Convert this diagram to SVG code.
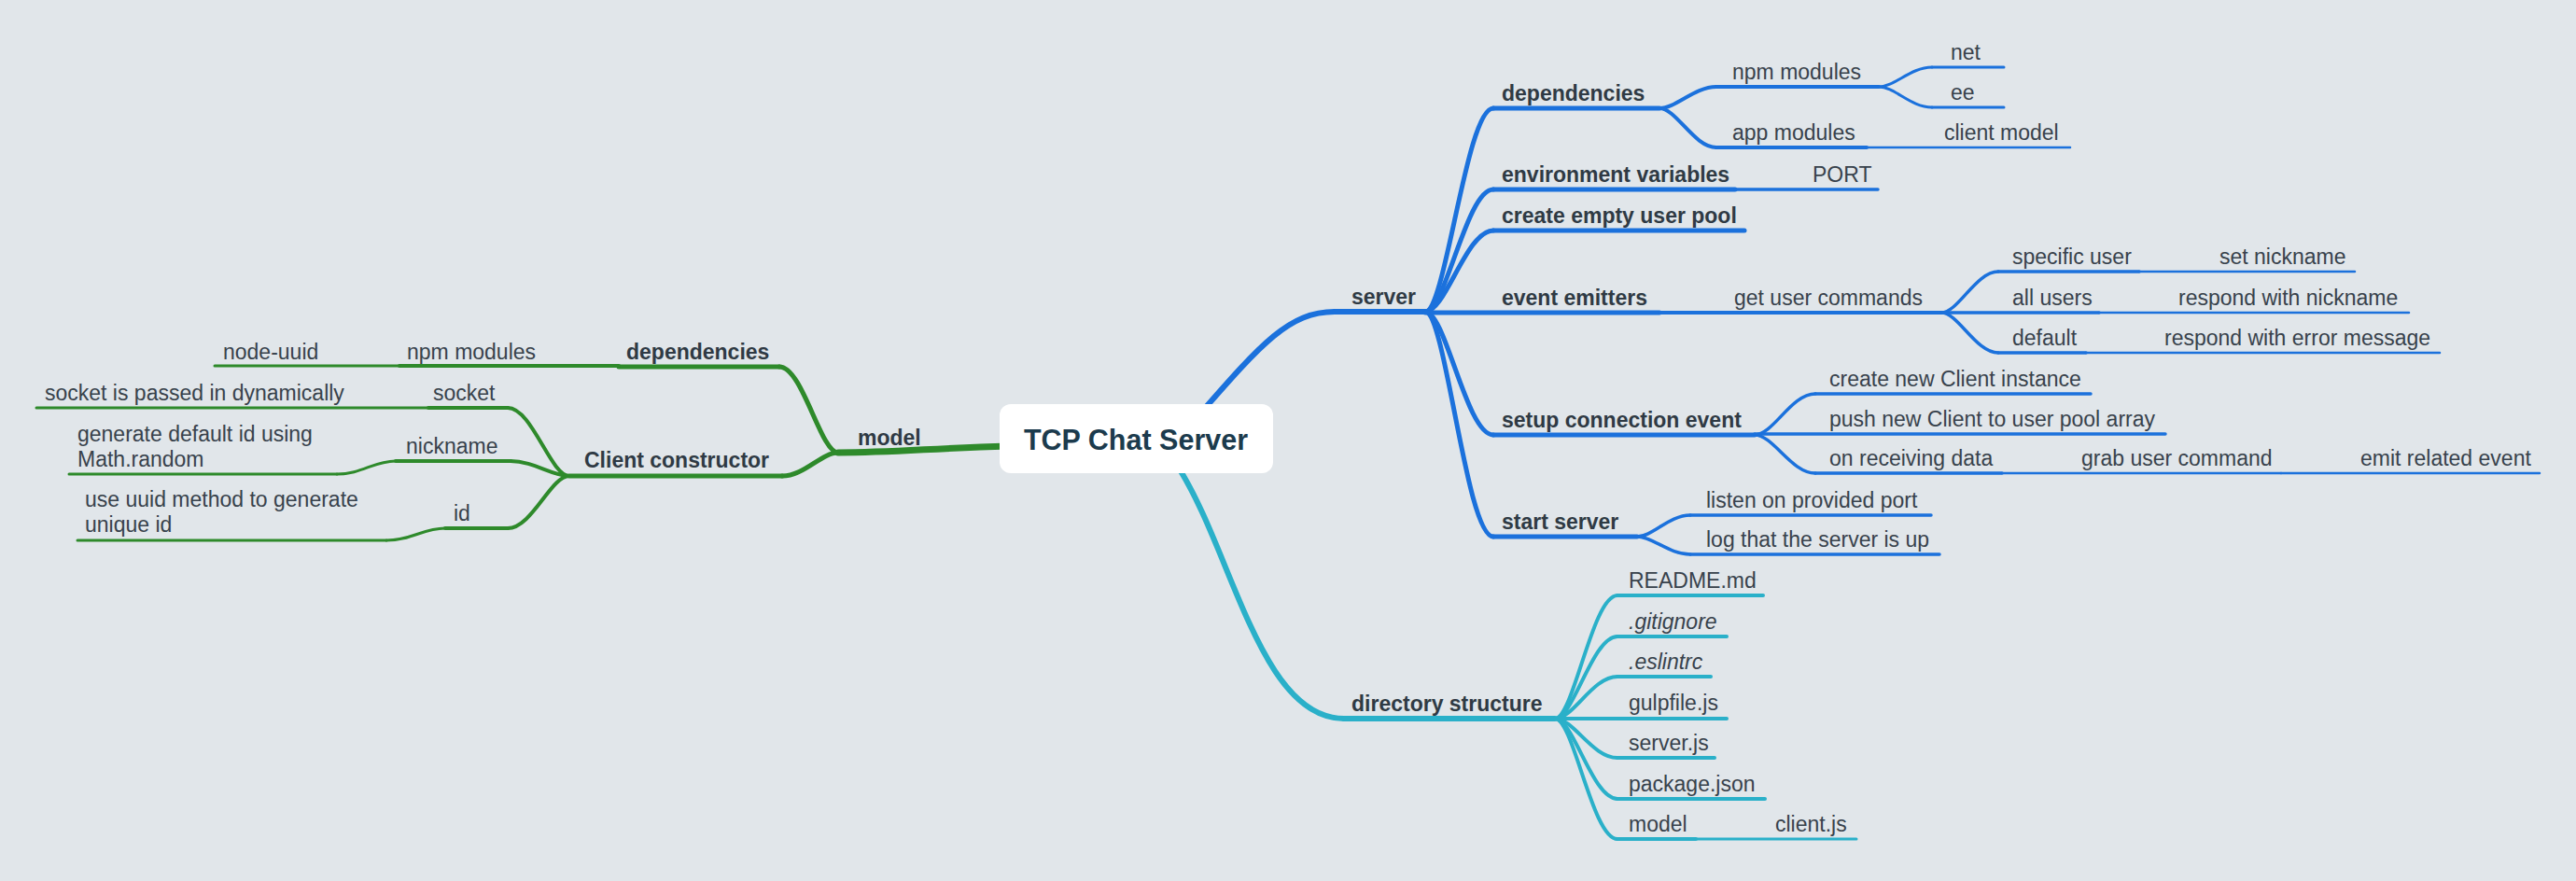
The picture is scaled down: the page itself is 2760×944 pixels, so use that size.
<svg xmlns="http://www.w3.org/2000/svg" width="2760" height="944" viewBox="0 0 2760 944">
<style>
.t{font-family:"Liberation Sans",Arial,Helvetica,sans-serif;font-size:23px;fill:#38424c}
.b{font-weight:bold;fill:#2f3a44}
.i{font-style:italic}
.root{font-family:"Liberation Sans",Arial,Helvetica,sans-serif;font-size:30.5px;font-weight:bold;fill:#1c3b4d}
path,line{fill:none;stroke-linecap:round;stroke-linejoin:round}
.g{stroke:#2e8a2b}
.bl{stroke:#1b71dc}
.c{stroke:#2ab0c9}
.w7{stroke-width:7}.w6{stroke-width:6}.w5{stroke-width:5}.w4{stroke-width:4}.w35{stroke-width:3.5}.w3{stroke-width:3}.w25{stroke-width:2.5}
</style>
<rect width="2760" height="944" fill="#e1e6ea"/>
<g id="connectors">
  <!-- root branches -->
  <path class="bl w6" d="M1280,450 C1350,370 1380,334 1430,334"/>
  <path class="c w6" d="M1262,500 C1320,590 1350,770 1440,770"/>
  <path class="g w7" d="M1080,478 C1000,480 960,485 898,485"/>
  <!-- server children -->
  <path class="bl w5" d="M1527,334 C1549,334 1571,116 1600,116"/>
  <path class="bl w5" d="M1527,334 C1549,334 1571,203 1600,203"/>
  <path class="bl w5" d="M1527,334 C1549,334 1571,247 1600,247"/>
  <path class="bl w5" d="M1527,334 C1549,334 1571,466 1600,466"/>
  <path class="bl w5" d="M1527,334 C1549,334 1571,575 1600,575"/>
  <path class="bl w4" d="M1778,116 C1796,116 1815,93 1839,93"/>
  <path class="bl w4" d="M1778,116 C1796,116 1815,158 1839,158"/>
  <path class="bl w3" d="M2013,93 C2030,93 2047,72 2070,72"/>
  <path class="bl w3" d="M2013,93 C2030,93 2047,115 2070,115"/>
  <path class="bl w35" d="M2080,335 C2098,335 2117,291 2141,291"/>
  <path class="bl w35" d="M2080,335 C2098,335 2117,378 2141,378"/>
  <path class="bl w35" d="M1880,466 C1900,466 1919,422 1945,422"/>
  <path class="bl w35" d="M1880,466 C1900,466 1919,507 1945,507"/>
  <path class="bl w35" d="M1754,575 C1771,575 1788,552 1811,552"/>
  <path class="bl w35" d="M1754,575 C1771,575 1788,594 1811,594"/>
  <!-- directory children -->
  <path class="c w4" d="M1666,770 C1686,770 1706,638 1733,638"/>
  <path class="c w4" d="M1666,770 C1686,770 1706,682 1733,682"/>
  <path class="c w4" d="M1666,770 C1686,770 1706,725 1733,725"/>
  <path class="c w4" d="M1666,770 C1686,770 1706,812 1733,812"/>
  <path class="c w4" d="M1666,770 C1686,770 1706,856 1733,856"/>
  <path class="c w4" d="M1666,770 C1686,770 1706,899 1733,899"/>
  <!-- model children -->
  <path class="g w5" d="M898,485 C879,485 860,393 835,393"/>
  <path class="g w5" d="M898,485 C880,485 862,510 838,510"/>
  <path class="g w4" d="M610,510 C590,510 570,437 544,437"/>
  <path class="g w4" d="M610,510 C591,510 572,494 547,494"/>
  <path class="g w4" d="M610,510 C590,510 570,566 544,566"/>
  <path class="g w3" d="M424,494 C400,494 388,508 361,508"/>
  <path class="g w3" d="M477,566 C453,566 441,579 414,579"/>
</g>

<g id="root">
  <rect x="1071" y="433" width="293" height="74" rx="12" fill="#ffffff"/>
  <text class="root" x="1217" y="482" text-anchor="middle">TCP Chat Server</text>
</g>

<!-- server branch -->
<g id="server"><line class="bl w6" x1="1430" y1="334" x2="1527" y2="334"/><text class="t b" x="1448" y="326">server</text></g>
<g id="s-dependencies"><line class="bl w5" x1="1600" y1="116" x2="1778" y2="116"/><text class="t b" x="1609" y="108">dependencies</text></g>
<g id="s-npm"><line class="bl w4" x1="1839" y1="93" x2="2013" y2="93"/><text class="t" x="1856" y="85">npm modules</text></g>
<g id="s-net"><line class="bl w3" x1="2070" y1="72" x2="2147" y2="72"/><text class="t" x="2090" y="64">net</text></g>
<g id="s-ee"><line class="bl w3" x1="2070" y1="115" x2="2147" y2="115"/><text class="t" x="2090" y="107">ee</text></g>
<g id="s-app"><line class="bl w4" x1="1839" y1="158" x2="2000" y2="158"/><text class="t" x="1856" y="150">app modules</text></g>
<g id="s-client-model"><line class="bl w25" x1="2000" y1="158" x2="2218" y2="158"/><text class="t" x="2083" y="150">client model</text></g>
<g id="s-env"><line class="bl w5" x1="1600" y1="203" x2="1859" y2="203"/><text class="t b" x="1609" y="195">environment variables</text></g>
<g id="s-port"><line class="bl w35" x1="1859" y1="203" x2="2012" y2="203"/><text class="t" x="1942" y="195">PORT</text></g>
<g id="s-pool"><line class="bl w5" x1="1600" y1="247" x2="1869" y2="247"/><text class="t b" x="1609" y="239">create empty user pool</text></g>
<g id="s-events"><line class="bl w5" x1="1527" y1="335" x2="1778" y2="335"/><text class="t b" x="1609" y="327">event emitters</text></g>
<g id="s-commands"><line class="bl w4" x1="1778" y1="335" x2="2080" y2="335"/><text class="t" x="1858" y="327">get user commands</text></g>
<g id="s-specific"><line class="bl w35" x1="2141" y1="291" x2="2292" y2="291"/><text class="t" x="2156" y="283">specific user</text></g>
<g id="s-setnick"><line class="bl w25" x1="2292" y1="291" x2="2523" y2="291"/><text class="t" x="2378" y="283">set nickname</text></g>
<g id="s-all"><line class="bl w35" x1="2080" y1="335" x2="2249" y2="335"/><text class="t" x="2156" y="327">all users</text></g>
<g id="s-respnick"><line class="bl w25" x1="2249" y1="335" x2="2581" y2="335"/><text class="t" x="2334" y="327">respond with nickname</text></g>
<g id="s-default"><line class="bl w35" x1="2141" y1="378" x2="2235" y2="378"/><text class="t" x="2156" y="370">default</text></g>
<g id="s-resperr"><line class="bl w25" x1="2235" y1="378" x2="2614" y2="378"/><text class="t" x="2319" y="370">respond with error message</text></g>
<g id="s-setup"><line class="bl w5" x1="1600" y1="466" x2="1880" y2="466"/><text class="t b" x="1609" y="458">setup connection event</text></g>
<g id="s-create"><line class="bl w35" x1="1945" y1="422" x2="2240" y2="422"/><text class="t" x="1960" y="414">create new Client instance</text></g>
<g id="s-push"><line class="bl w35" x1="1880" y1="465" x2="2320" y2="465"/><text class="t" x="1960" y="457">push new Client to user pool array</text></g>
<g id="s-receive"><line class="bl w35" x1="1945" y1="507" x2="2145" y2="507"/><text class="t" x="1960" y="499">on receiving data</text></g>
<g id="s-grab"><line class="bl w25" x1="2145" y1="507" x2="2444" y2="507"/><text class="t" x="2230" y="499">grab user command</text></g>
<g id="s-emit"><line class="bl w25" x1="2444" y1="507" x2="2721" y2="507"/><text class="t" x="2529" y="499">emit related event</text></g>
<g id="s-start"><line class="bl w5" x1="1600" y1="575" x2="1754" y2="575"/><text class="t b" x="1609" y="567">start server</text></g>
<g id="s-listen"><line class="bl w35" x1="1811" y1="552" x2="2069" y2="552"/><text class="t" x="1828" y="544">listen on provided port</text></g>
<g id="s-log"><line class="bl w35" x1="1811" y1="594" x2="2078" y2="594"/><text class="t" x="1828" y="586">log that the server is up</text></g>

<!-- directory branch -->
<g id="directory"><line class="c w6" x1="1440" y1="770" x2="1666" y2="770"/><text class="t b" x="1448" y="762">directory structure</text></g>
<g id="d-readme"><line class="c w4" x1="1733" y1="638" x2="1889" y2="638"/><text class="t" x="1745" y="630">README.md</text></g>
<g id="d-gitignore"><line class="c w4" x1="1733" y1="682" x2="1850" y2="682"/><text class="t i" x="1745" y="674">.gitignore</text></g>
<g id="d-eslintrc"><line class="c w4" x1="1733" y1="725" x2="1833" y2="725"/><text class="t i" x="1745" y="717">.eslintrc</text></g>
<g id="d-gulpfile"><line class="c w4" x1="1666" y1="770" x2="1850" y2="770"/><text class="t" x="1745" y="761">gulpfile.js</text></g>
<g id="d-server"><line class="c w4" x1="1733" y1="812" x2="1837" y2="812"/><text class="t" x="1745" y="804">server.js</text></g>
<g id="d-package"><line class="c w4" x1="1733" y1="856" x2="1891" y2="856"/><text class="t" x="1745" y="848">package.json</text></g>
<g id="d-model"><line class="c w4" x1="1733" y1="899" x2="1817" y2="899"/><text class="t" x="1745" y="891">model</text></g>
<g id="d-client"><line class="c w3" x1="1817" y1="899" x2="1989" y2="899"/><text class="t" x="1902" y="891">client.js</text></g>

<!-- model branch -->
<g id="model"><text class="t b" x="919" y="477">model</text></g>
<g id="m-dependencies"><line class="g w5" x1="835" y1="393" x2="663" y2="393"/><text class="t b" x="671" y="385">dependencies</text></g>
<g id="m-npm"><line class="g w4" x1="663" y1="392" x2="428" y2="392"/><text class="t" x="436" y="385">npm modules</text></g>
<g id="m-uuid"><line class="g w3" x1="428" y1="392" x2="230" y2="392"/><text class="t" x="239" y="385">node-uuid</text></g>
<g id="m-client"><line class="g w5" x1="838" y1="510" x2="610" y2="510"/><text class="t b" x="626" y="501">Client constructor</text></g>
<g id="m-socket"><line class="g w4" x1="544" y1="437" x2="459" y2="437"/><text class="t" x="464" y="429">socket</text></g>
<g id="m-socket-note"><line class="g w3" x1="459" y1="437" x2="39" y2="437"/><text class="t" x="48" y="429">socket is passed in dynamically</text></g>
<g id="m-nickname"><line class="g w4" x1="547" y1="494" x2="424" y2="494"/><text class="t" x="435" y="486">nickname</text></g>
<g id="m-nickname-note"><line class="g w3" x1="361" y1="508" x2="74" y2="508"/><text class="t" x="83" y="473">generate default id using</text><text class="t" x="83" y="500">Math.random</text></g>
<g id="m-id"><line class="g w4" x1="544" y1="566" x2="477" y2="566"/><text class="t" x="486" y="558">id</text></g>
<g id="m-id-note"><line class="g w3" x1="414" y1="579" x2="83" y2="579"/><text class="t" x="91" y="543">use uuid method to generate</text><text class="t" x="91" y="570">unique id</text></g>
</svg>
